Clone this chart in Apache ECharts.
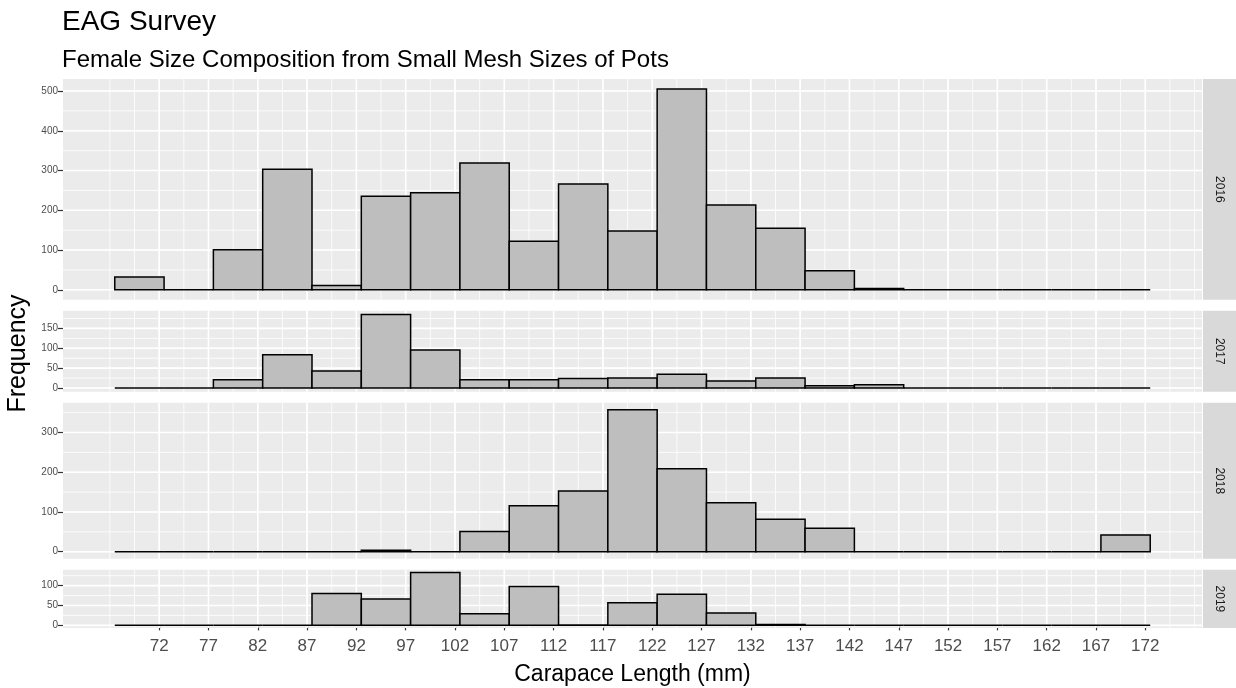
<!DOCTYPE html>
<html><head><meta charset="utf-8">
<script src="https://cdn.jsdelivr.net/npm/echarts@6/dist/echarts.min.js"></script>
<style>html,body{margin:0;padding:0;background:#fff}#c{width:1236px;height:688px}</style>
</head><body><div id="c"></div>
<script>
// ---- data ----
const binCenters = [70,75,80,85,90,95,100,105,110,115,120,125,130,135,140,145,150,155,160,165,170];
const binWidth = 5;
const years = ['2016','2017','2018','2019'];
const counts2016 = [32,0,101,303,11,235,244,319,122,266,148,505,213,155,48,3,0,0,0,0,0];
const counts2017 = [0,0,21,84,43,185,96,21,21,24,25,35,18,25,6,8,0,0,0,0,0];
const counts2018 = [0,0,0,0,0,4,0,51,116,153,357,209,123,82,59,0,0,0,0,0,42];
const counts2019 = [0,0,0,0,80,66,133,29,98,1,57,78,31,2,0,0,0,0,0,0,0];
const xTickLabels = [72,77,82,87,92,97,102,107,112,117,122,127,132,137,142,147,152,157,162,167,172];
const yTicks2016 = [0,100,200,300,400,500];
const yTicks2017 = [0,50,100,150];
const yTicks2018 = [0,100,200,300];
const yTicks2019 = [0,50,100];
const titleText = 'EAG Survey';
const subtitleText = 'Female Size Composition from Small Mesh Sizes of Pots';
const xName = 'Carapace Length (mm)';
const yName = 'Frequency';

// ---- build ----
const FONT = '"Liberation Sans", Arial, sans-serif';
const allCounts = [counts2016, counts2017, counts2018, counts2019];
const allYTicks = [yTicks2016, yTicks2017, yTicks2018, yTicks2019];

const binLo = binCenters[0] - binWidth/2, binHi = binCenters[binCenters.length-1] + binWidth/2;
const xMin = binLo - 0.05*(binHi-binLo), xMax = binHi + 0.05*(binHi-binLo);
const xStep = xTickLabels[1]-xTickLabels[0];
const xExt = [xTickLabels[0]-xStep].concat(xTickLabels, [xTickLabels[xTickLabels.length-1]+xStep]);
function minorOf(ext){ const out=[]; for(let i=0;i<ext.length-1;i++){out.push(ext[i], (ext[i]+ext[i+1])/2);} out.push(ext[ext.length-1]); return out; }
const xMinor = minorOf(xExt).filter(v=>v>=xMin&&v<=xMax);

const L = 63, R = 1202, TOP = 79, BOT = 628, GAP = 11;
const ranges = allCounts.map(c=>{const m=Math.max(...c); return [-0.05*m, 1.05*m];});
const spanSum = ranges.reduce((s,r)=>s+(r[1]-r[0]),0);
const k = (BOT-TOP-GAP*(years.length-1))/spanSum;
const grids=[], xAxes=[], yAxes=[], series=[], graphics=[];
let y = TOP;
years.forEach((yr,i)=>{
  const h = (ranges[i][1]-ranges[i][0])*k;
  grids.push({left:L, top:y, width:R-L, height:h, show:true, backgroundColor:'#ebebeb', borderWidth:0});
  const last = i===years.length-1;
  xAxes.push({type:'value', gridIndex:i, min:xMin, max:xMax, splitLine:{show:false}, axisLine:{show:false},
    axisTick:{show:last, customValues:xTickLabels, length:5, lineStyle:{color:'#333', width:1.2}},
    axisLabel:{show:last, customValues:xTickLabels, fontSize:17, color:'#4d4d4d', margin:10, fontFamily:FONT}});
  const yt = allYTicks[i];
  const yStep = yt[1]-yt[0];
  const yExt = [yt[0]-yStep].concat(yt,[yt[yt.length-1]+yStep]);
  const yMinor = minorOf(yExt).filter(v=>v>=ranges[i][0]&&v<=ranges[i][1]);
  yAxes.push({type:'value', gridIndex:i, min:ranges[i][0], max:ranges[i][1], splitLine:{show:false}, axisLine:{show:false},
    axisTick:{show:true, customValues:yt, length:5, lineStyle:{color:'#333', width:1.2}},
    axisLabel:{customValues:yt, fontSize:10, color:'#4d4d4d', margin:5, fontFamily:FONT}});
  const gl = [];
  xMinor.forEach(v=>gl.push([0,v,0])); yMinor.forEach(v=>gl.push([1,v,0]));
  xTickLabels.forEach(v=>gl.push([0,v,1])); yt.forEach(v=>gl.push([1,v,1]));
  series.push({type:'custom', xAxisIndex:i, yAxisIndex:i, z:1, silent:true, data:gl,
    renderItem:(params,api)=>{
      const cs = params.coordSys; const o=api.value(0), v=api.value(1), mj=api.value(2);
      const st = {stroke:'#ffffff', lineWidth: mj?1.6:0.8};
      if(o===0){const x=api.coord([v,0])[0]; return {type:'line', shape:{x1:x,y1:cs.y,x2:x,y2:cs.y+cs.height}, style:st};}
      const yy=api.coord([xMin,v])[1]; return {type:'line', shape:{x1:cs.x,y1:yy,x2:cs.x+cs.width,y2:yy}, style:st};
    }});
  series.push({type:'custom', xAxisIndex:i, yAxisIndex:i, z:3, silent:true,
    data: binCenters.map((c,j)=>[c, allCounts[i][j]]),
    renderItem:(params,api)=>{
      const c=api.value(0), v=api.value(1);
      const p0=api.coord([c-binWidth/2,0]), p1=api.coord([c+binWidth/2,v]);
      if(v===0) return {type:'line', shape:{x1:p0[0],y1:p0[1],x2:p1[0],y2:p0[1]}, style:{stroke:'#000', lineWidth:1.5}};
      return {type:'rect', shape:{x:p0[0], y:p1[1], width:p1[0]-p0[0], height:p0[1]-p1[1]}, style:{fill:'#bebebe', stroke:'#000', lineWidth:1.5}};
    }});
  graphics.push({type:'rect', left:R+1, top:y, shape:{width:1236-R-1, height:h}, style:{fill:'#d9d9d9'}, silent:true});
  graphics.push({type:'text', x:R+1+(1236-R-1)/2, y:y+h/2, rotation:-Math.PI/2,
    style:{text:yr, fill:'#1a1a1a', font:'12px '+FONT, align:'center', verticalAlign:'middle'}, silent:true});
  y += h + GAP;
});
graphics.push({type:'text', x:18, y:(TOP+BOT)/2, rotation:Math.PI/2,
  style:{text:yName, fill:'#000', font:'25px '+FONT, align:'center', verticalAlign:'middle'}});
graphics.push({type:'text', x:(L+R)/2, y:675,
  style:{text:xName, fill:'#000', font:'23px '+FONT, align:'center', verticalAlign:'middle'}});

const chart = echarts.init(document.getElementById('c'), null, {renderer:'canvas'});
chart.setOption({
  animation:false,
  backgroundColor:'#ffffff',
  title:[
    {text:titleText, left:57, top:3, textStyle:{fontSize:28, fontWeight:'normal', color:'#000', fontFamily:FONT}},
    {text:subtitleText, left:57, top:43, textStyle:{fontSize:24, fontWeight:'normal', color:'#000', fontFamily:FONT}}
  ],
  grid:grids, xAxis:xAxes, yAxis:yAxes, series:series, graphic:graphics
});
</script></body></html>
